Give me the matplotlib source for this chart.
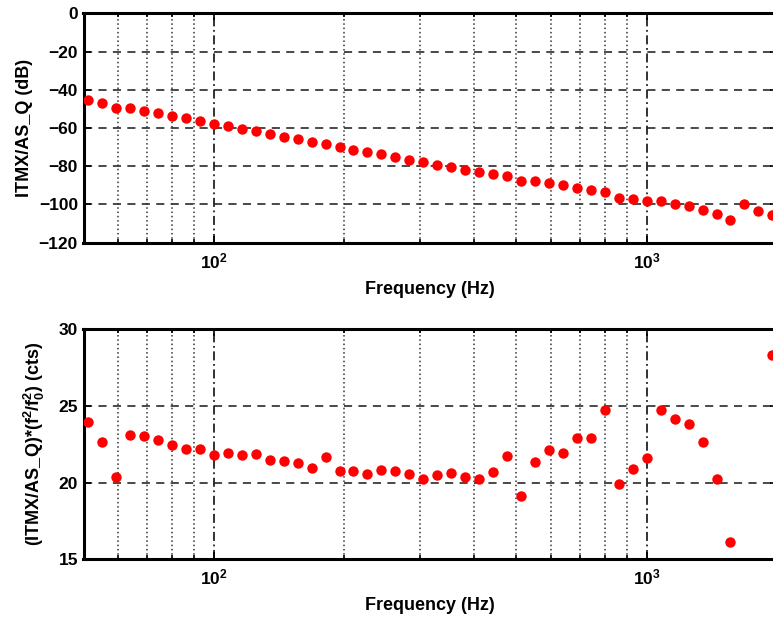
import numpy as np
import matplotlib
matplotlib.use("Agg")
import matplotlib.pyplot as plt
from matplotlib.ticker import FixedLocator, NullFormatter, LogFormatterMathtext

# frequency points (Hz)
freq = [51.2, 55.2, 59.5, 64.0, 69.0, 74.3, 80.0, 86.2, 92.9, 100.0,
        107.7, 116.0, 125.0, 134.6, 145.0, 156.2, 168.2, 181.2, 195.2, 210.2,
        226.4, 243.9, 262.7, 282.9, 304.8, 328.3, 353.6, 380.9, 410.2, 441.9,
        475.9, 512.7, 552.2, 594.8, 640.6, 690.1, 743.3, 800.6, 862.3, 928.9,
        1000.0, 1077.1, 1160.1, 1249.6, 1346.0, 1449.8, 1561.6, 1682.0, 1811.7, 1951.5]

# ITMX/AS_Q transfer function magnitude (dB)
mag_db = [-45.4, -47.1, -49.4, -49.4, -50.9, -52.3, -53.7, -54.9, -56.2, -57.9,
          -59.1, -60.4, -61.7, -63.1, -64.5, -65.9, -67.3, -68.4, -69.8, -71.4,
          -72.6, -73.8, -75.0, -76.6, -77.9, -79.2, -80.4, -81.8, -83.2, -84.2,
          -85.0, -87.6, -87.9, -88.8, -90.0, -91.2, -92.6, -93.3, -96.5, -97.3,
          -98.2, -98.3, -99.8, -101.0, -103.0, -105.1, -108.3, -99.6, -103.3, -105.5]

# calibrated (f^2/f0^2) values in counts; two points fall outside the plotted range
cal_cts = [23.93, 22.67, 20.35, 23.13, 23.06, 22.76, 22.43, 22.21, 22.19, 21.78,
           21.91, 21.78, 21.89, 21.46, 21.43, 21.26, 20.95, 21.65, 20.78, 20.76,
           20.58, 20.82, 20.74, 20.56, 20.24, 20.50, 20.63, 20.37, 20.24, 20.71,
           21.76, 19.11, 21.33, 22.13, 21.95, 22.93, 22.89, 24.72, 19.91, 20.91,
           21.59, 24.74, 24.15, 23.82, 22.67, 20.22, 16.15, np.nan, np.nan, 28.34]

top_yticks = [0, -20, -40, -60, -80, -100, -120]
bot_yticks = [15, 20, 25, 30]
major_x = [100, 1000]
minor_x = [60, 70, 80, 90, 200, 300, 400, 500, 600, 700, 800, 900, 2000]

plt.rcParams["font.family"] = ["Liberation Sans", "DejaVu Sans"]
plt.rcParams["font.weight"] = "bold"
plt.rcParams["mathtext.fontset"] = "custom"
plt.rcParams["mathtext.rm"] = "Liberation Sans:bold"
plt.rcParams["mathtext.it"] = "Liberation Sans:bold"
plt.rcParams["mathtext.bf"] = "Liberation Sans:bold"
plt.rcParams["mathtext.default"] = "rm"

fig = plt.figure(figsize=(7.73, 6.17), dpi=100)
W, H = 773.0, 617.0
ax1 = fig.add_axes([83.5 / W, 1 - 242.7 / H, (777 - 83.5) / W, 229.4 / H])
ax2 = fig.add_axes([83.5 / W, 1 - 559.3 / H, (777 - 83.5) / W, 230.0 / H])


def style_axes(ax, yticks, ylim):
    ax.set_xscale("log")
    ax.set_xlim(50, 2000)
    ax.set_ylim(*ylim)
    ax.set_yticks(yticks)
    ax.xaxis.set_major_locator(FixedLocator(major_x))
    ax.xaxis.set_major_formatter(LogFormatterMathtext())
    ax.xaxis.set_minor_locator(FixedLocator(minor_x))
    ax.xaxis.set_minor_formatter(NullFormatter())
    for v in yticks:
        ax.axhline(v, color="#3a3a3a", lw=1.3, ls=(0, (4.5, 3.5)), zorder=1)
    for v in minor_x:
        ax.axvline(v, color="#333333", lw=1.1, ls=(0, (1, 1.8)), zorder=1)
    for v in major_x:
        ax.axvline(v, color="#222222", lw=1.3, ls=(0, (5, 2, 1, 2)), zorder=1)
    for s in ax.spines.values():
        s.set_linewidth(2.2)
    ax.tick_params(which="both", direction="in", top=True, right=True,
                   labelsize=12.5, width=1.2)
    ax.tick_params(which="major", length=5)
    ax.tick_params(which="minor", length=3)
    ax.tick_params(axis="x", pad=6)
    ax.tick_params(axis="y", pad=4)
    ax.set_xlabel("Frequency (Hz)", fontsize=13, fontweight="bold", labelpad=7)


ax1.plot(freq, mag_db, "o", color="red", markersize=7.5, markeredgewidth=0, zorder=3)
style_axes(ax1, top_yticks, (-120, 0))
ax1.set_ylabel("ITMX/AS_Q (dB)", fontsize=13, fontweight="bold", labelpad=4)

ax2.plot(freq, cal_cts, "o", color="red", markersize=7.5, markeredgewidth=0, zorder=3)
style_axes(ax2, bot_yticks, (15, 30))
ax2.set_ylabel(r"(ITMX/AS_Q)*(f$^2$/f$_0^2$) (cts)", fontsize=13, fontweight="bold", labelpad=8)

fig.savefig("out.png", dpi=100)
